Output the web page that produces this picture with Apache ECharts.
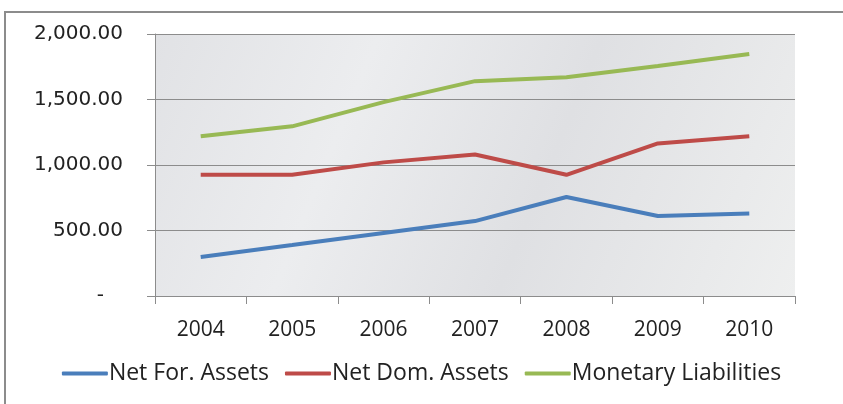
<!DOCTYPE html>
<html>
<head>
<meta charset="utf-8">
<script src="https://cdn.jsdelivr.net/npm/echarts@6/dist/echarts.min.js"></script>
<style>
html, body { margin: 0; padding: 0; background: #fff; }
#main { width: 843px; height: 404px; }
</style>
</head>
<body>
<div id="main"></div>
<script>
var years = ['2004', '2005', '2006', '2007', '2008', '2009', '2010'];
var netForAssets = [298, 389, 481, 572, 756, 611, 630];
var netDomAssets = [925, 925, 1020, 1080, 925, 1165, 1220];
var monetaryLiab = [1220, 1295, 1480, 1640, 1670, 1756, 1847];
var seriesNames = ['Net For. Assets', 'Net Dom. Assets', 'Monetary Liabilities'];
var colors = ['#4a7ebb', '#be4b48', '#98b954'];

function fmt(v) {
    if (v === 0) return '-   ';
    var s = v.toFixed(2).split('.');
    s[0] = s[0].replace(/\B(?=(\d{3})+(?!\d))/g, ',');
    return s.join('.');
}

var myChart = echarts.init(document.getElementById('main'));
var bodyFont = '"Open Sans", sans-serif';

function mkSeries(name, data, color) {
    return {
        name: name,
        type: 'line',
        data: data,
        symbol: 'none',
        lineStyle: { color: color, width: 4 },
        itemStyle: { color: color }
    };
}

option = {
    color: colors,
    animation: false,
    graphic: [{
        type: 'rect',
        shape: { x: 5, y: 12, width: 900, height: 500 },
        style: { fill: 'none', stroke: '#8c8c8c', lineWidth: 2 }
    }],
    grid: {
        left: 155,
        right: 48,
        top: 34,
        bottom: 108,
        show: true,
        borderWidth: 0,
        backgroundColor: new echarts.graphic.LinearGradient(0, 0, 1, 1, [
            { offset: 0, color: '#e1e2e5' },
            { offset: 0.3, color: '#ecedef' },
            { offset: 0.6, color: '#dfe0e3' },
            { offset: 1, color: '#eeefef' }
        ])
    },
    legend: {
        top: 357,
        left: 'center',
        data: seriesNames,
        icon: 'roundRect',
        itemWidth: 46,
        itemHeight: 4,
        itemGap: 16,
        textStyle: { fontFamily: bodyFont, fontSize: 23, color: '#222', padding: [0, 0, 0, -4] }
    },
    xAxis: {
        type: 'category',
        data: years,
        boundaryGap: true,
        axisLine: { lineStyle: { color: '#8c8c8c', width: 1 } },
        axisTick: { show: true, length: 8, lineStyle: { color: '#8c8c8c' } },
        axisLabel: { margin: 24, fontFamily: bodyFont, fontSize: 21, color: '#222' }
    },
    yAxis: {
        type: 'value',
        min: 0,
        max: 2000,
        interval: 500,
        axisLine: { show: true, lineStyle: { color: '#8c8c8c', width: 1 } },
        axisTick: { show: true, length: 8, lineStyle: { color: '#8c8c8c' } },
        splitLine: { lineStyle: { color: '#8c8c8c', width: 1 } },
        axisLabel: {
            margin: 32,
            fontFamily: '"DejaVu Sans", sans-serif',
            fontSize: 20,
            color: '#222',
            formatter: fmt
        }
    },
    series: [
        mkSeries(seriesNames[0], netForAssets, colors[0]),
        mkSeries(seriesNames[1], netDomAssets, colors[1]),
        mkSeries(seriesNames[2], monetaryLiab, colors[2])
    ]
};
myChart.setOption(option);
</script>
</body>
</html>
